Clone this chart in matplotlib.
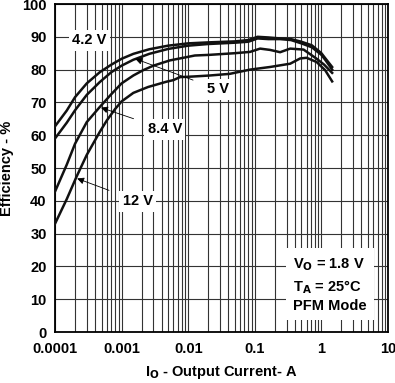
import matplotlib
matplotlib.use("Agg")
import matplotlib.pyplot as plt
from matplotlib.ticker import LogLocator, FixedLocator, NullFormatter, FixedFormatter

plt.rcParams['font.family'] = ['Liberation Sans', 'DejaVu Sans']
plt.rcParams['font.weight'] = 'bold'
plt.rcParams['mathtext.default'] = 'bf'

# ---- data ----
i_42 = [1e-4, 1.5e-4, 2e-4, 3e-4, 4.7e-4, 7e-4, 1e-3, 1.5e-3, 2.6e-3, 5e-3, 1e-2, 2e-2,
        5e-2, 8e-2, 1.1e-1, 1.6e-1, 2.4e-1, 3.5e-1, 5e-1, 7.2e-1, 1.0, 1.14, 1.45]
e_42 = [62.7, 67.5, 71.6, 75.8, 79.2, 81.5, 83.3, 84.8, 86.2, 87.3, 88.0, 88.3,
        88.6, 89.0, 90.0, 89.8, 89.5, 89.3, 88.5, 87.4, 85.0, 83.5, 80.8]

i_5 = i_42
e_5 = [59.0, 63.8, 67.6, 72.3, 76.2, 79.2, 81.2, 83.0, 84.8, 86.3, 87.3, 87.8,
       88.2, 88.5, 89.5, 89.3, 89.3, 89.0, 88.0, 86.8, 84.5, 83.0, 80.0]

i_84 = [1e-4, 1.5e-4, 2e-4, 3e-4, 4.7e-4, 7e-4, 1e-3, 1.5e-3, 2.1e-3, 3e-3, 5.3e-3, 1.26e-2,
        2.1e-2, 5e-2, 8.5e-2, 1.2e-1, 1.7e-1, 2.4e-1, 3.4e-1, 5.4e-1, 8.5e-1, 1.1, 1.45]
e_84 = [42.8, 51.0, 57.4, 64.0, 68.6, 72.5, 75.8, 78.2, 79.8, 81.2, 82.8, 84.3,
        84.5, 85.0, 85.4, 86.4, 86.0, 85.3, 86.4, 86.1, 83.3, 81.5, 79.0]

i_12 = [1e-4, 1.5e-4, 2.1e-4, 3e-4, 4.7e-4, 6e-4, 8e-4, 1e-3, 1.5e-3, 2.5e-3, 4.7e-3, 6e-3,
        7.5e-3, 1.2e-2, 2.1e-2, 4.2e-2, 8.5e-2, 1.7e-1, 3.4e-1, 4.8e-1, 6e-1, 8.5e-1, 1.14, 1.45]
e_12 = [33.0, 40.5, 47.3, 54.0, 61.0, 64.5, 68.0, 70.3, 72.9, 74.7, 76.3, 76.8,
        77.7, 77.9, 78.2, 78.7, 80.0, 80.8, 81.8, 83.4, 83.6, 82.3, 79.8, 76.4]

x_ticks = [1e-4, 1e-3, 1e-2, 1e-1, 1, 10]
x_tick_labels = ["0.0001", "0.001", "0.01", "0.1", "1", "10"]
y_ticks = list(range(0, 101, 10))

fig = plt.figure(figsize=(3.95, 3.83), dpi=100)
ax = fig.add_axes([55/395, 1-332/383, 333/395, 328/383])

ax.set_xscale('log')
ax.set_xlim(1e-4, 10)
ax.set_ylim(0, 100)

ax.xaxis.set_major_locator(FixedLocator(x_ticks))
ax.xaxis.set_major_formatter(FixedFormatter(x_tick_labels))
ax.xaxis.set_minor_locator(LogLocator(base=10, subs=range(2, 10), numticks=20))
ax.xaxis.set_minor_formatter(NullFormatter())
ax.set_yticks(y_ticks)

ax.grid(True, which='both', axis='x', color='#333333', lw=0.8)
ax.grid(True, which='major', axis='y', color='#333333', lw=0.8)
ax.set_axisbelow(True)

ax.tick_params(which='both', length=0, labelsize=10.5)
ax.tick_params(axis='x', pad=7)
ax.tick_params(axis='y', pad=6)
for lab in ax.get_xticklabels() + ax.get_yticklabels():
    lab.set_fontweight('bold')
for s in ax.spines.values():
    s.set_linewidth(1.3)
    s.set_color('black')

for xs, ys in [(i_42, e_42), (i_5, e_5), (i_84, e_84), (i_12, e_12)]:
    ax.plot(xs, ys, color='#111111', lw=1.8, zorder=3)

box = dict(facecolor='white', edgecolor='none', pad=2.5)
arrow = dict(arrowstyle='-|>', color='black', lw=0.6, mutation_scale=10, shrinkA=8, shrinkB=0)
ax.text(3.3e-4, 88.9, "4.2 V", fontsize=10.5, fontweight='bold', ha='center', va='center',
        bbox=box, zorder=4)
ax.annotate("5 V", xy=(1.6e-3, 83.3), xytext=(2.8e-2, 74.0), fontsize=10.5, fontweight='bold',
            ha='center', va='center', bbox=box, zorder=4, arrowprops=arrow)
ax.annotate("8.4 V", xy=(4.9e-4, 68.4), xytext=(4.45e-3, 61.8), fontsize=10.5, fontweight='bold',
            ha='center', va='center', bbox=box, zorder=4, arrowprops=arrow)
ax.annotate("12 V", xy=(2.15e-4, 46.8), xytext=(1.76e-3, 39.9), fontsize=10.5, fontweight='bold',
            ha='center', va='center', bbox=box, zorder=4, arrowprops=arrow)

ax.text(0.38, 14.3, "V$_\\mathbf{O}$ = 1.8 V\nT$_\\mathbf{A}$ = 25°C\nPFM Mode", fontsize=10.5,
        fontweight='bold', ha='left', va='center', linespacing=1.35,
        bbox=dict(facecolor='white', edgecolor='none', pad=5), zorder=4)

ax.set_ylabel("Efficiency - %", fontsize=10.5, fontweight='bold', labelpad=6)
ax.set_xlabel("I$_\\mathbf{O}$ - Output Current- A", fontsize=10.5, fontweight='bold', labelpad=6)

fig.savefig("out.png", dpi=100)
